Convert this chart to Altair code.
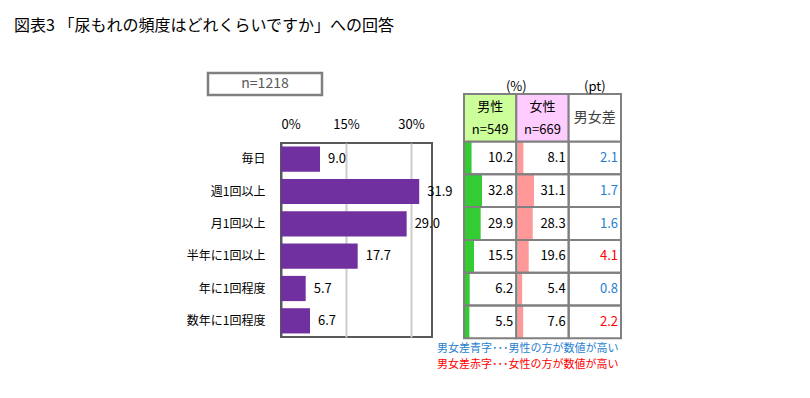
import altair as alt
import pandas as pd

# ---------------- data ----------------
title_text = "図表3 「尿もれの頻度はどれくらいですか」への回答"
n_total = "n=1218"
categories = ["毎日", "週1回以上", "月1回以上", "半年に1回以上", "年に1回程度", "数年に1回程度"]
total_pct = [9.0, 31.9, 29.0, 17.7, 5.7, 6.7]
male_pct = [10.2, 32.8, 29.9, 15.5, 6.2, 5.5]
female_pct = [8.1, 31.1, 28.3, 19.6, 5.4, 7.6]
diff_pt = [2.1, 1.7, 1.6, 4.1, 0.8, 2.2]
table_cols = ["男性", "女性", "男女差"]
table_n = ["n=549", "n=669", ""]
axis_ticks = [0, 15, 30]
unit_labels = ["(%)", "(pt)"]
note_blue = "男女差青字･･･男性の方が数値が高い"
note_red = "男女差赤字･･･女性の方が数値が高い"

# ---------------- styles ----------------
FONT = "Noto Sans CJK JP"
PURPLE = "#7030a0"
GREEN = "#33cc33"
PINK = "#ff9999"
BLUE = "#1f7fd0"
RED = "#ff0000"
CELL_BORDER = "#808080"
FRAME = "#595959"

df = pd.DataFrame({"cat": categories, "total": total_pct,
                   "male": male_pct, "female": female_pct})

rows = []
for c, m, f, d in zip(categories, male_pct, female_pct, diff_pt):
    rows.append({"cat": c, "col": "男性", "val": m, "tone": "k"})
    rows.append({"cat": c, "col": "女性", "val": f, "tone": "k"})
    rows.append({"cat": c, "col": "男女差", "val": d, "tone": "b" if m > f else "r"})
cells = pd.DataFrame(rows)

hdr = pd.DataFrame({"col": table_cols, "row": ["h"] * 3, "n": table_n})

# ---------------- scales ----------------
y_main = alt.Y("cat:N", sort=categories,
               scale=alt.Scale(domain=categories, paddingInner=0.22, paddingOuter=0.11),
               axis=alt.Axis(title=None, ticks=False, domain=False, labelPadding=16,
                             labelFontSize=12, labelColor="#000", labelFont=FONT))
y_main_noaxis = alt.Y("cat:N", sort=categories,
                      scale=alt.Scale(domain=categories, paddingInner=0.22, paddingOuter=0.11),
                      axis=None)
x_main_scale = alt.Scale(domain=[0, 34.85], nice=False, zero=True)

y_tab = alt.Y("cat:N", sort=categories,
              scale=alt.Scale(domain=categories, range=[-1.5, 195.3], paddingInner=0, paddingOuter=0),
              axis=None)
# column bands (cells) and column right edges (right-aligned numbers)
col_scale = alt.Scale(domain=table_cols, range=[183, 340], paddingInner=0, paddingOuter=0)
col_right = alt.Scale(type="point", domain=table_cols, range=[235.3, 340], padding=0)
y_hdr = alt.Y("row:N", scale=alt.Scale(domain=["h"], range=[-49, -1.5], paddingInner=0, paddingOuter=0),
              axis=None)

# ---------------- main bar chart ----------------
bars = alt.Chart(df).mark_bar(color=PURPLE).encode(
    x=alt.X("total:Q", scale=x_main_scale,
            axis=alt.Axis(orient="top", values=axis_ticks, labelExpr="datum.value + '%'",
                          ticks=False, domain=False, grid=True,
                          gridColor={"condition": {"test": "datum.value === 0", "value": FRAME},
                                     "value": "#cccccc"},
                          gridWidth=2, labelFontSize=13, labelColor="#000", labelFont=FONT,
                          labelPadding=12, title=None)),
    y=y_main,
)
bar_labels = alt.Chart(df).mark_text(align="left", dx=8, fontSize=13, font=FONT, color="#000").encode(
    x=alt.X("total:Q", scale=x_main_scale, axis=None),
    y=y_main_noaxis,
    text=alt.Text("total:Q", format=".1f"),
)

# ---------------- table ----------------
male_bars = alt.Chart(df).mark_bar(color=GREEN).encode(
    x=alt.X("male:Q", scale=alt.Scale(domain=[-4, 100], range=[184, 232.05], zero=False, nice=False), axis=None),
    x2=alt.datum(-4),
    y=y_tab,
)
female_bars = alt.Chart(df).mark_bar(color=PINK).encode(
    x=alt.X("female:Q", scale=alt.Scale(domain=[-4, 100], range=[236.8, 284.85], zero=False, nice=False), axis=None),
    x2=alt.datum(-4),
    y=y_tab,
)
cell_borders = alt.Chart(cells).mark_rect(fill="#ffffff", fillOpacity=0, stroke=CELL_BORDER, strokeWidth=2).encode(
    x=alt.X("col:N", scale=col_scale, axis=None),
    y=y_tab,
)
cell_text = alt.Chart(cells).mark_text(align="right", dx=-3, fontSize=13, font=FONT).encode(
    x=alt.X("col:N", scale=col_right, axis=None),
    y=y_tab,
    text=alt.Text("val:Q", format=".1f"),
    color=alt.Color("tone:N", scale=alt.Scale(domain=["k", "b", "r"], range=["#000000", BLUE, RED]), legend=None),
)

hdr_cells = alt.Chart(hdr).mark_rect(stroke=CELL_BORDER, strokeWidth=2).encode(
    x=alt.X("col:N", scale=col_scale, axis=None),
    y=y_hdr,
    fill=alt.Fill("col:N", scale=alt.Scale(domain=table_cols, range=["#ccff99", "#ffccff", "#ffffff"]), legend=None),
)
hdr_names = alt.Chart(hdr).transform_filter("datum.n != ''").mark_text(
    dy=-11, fontSize=13, font=FONT, color="#000").encode(
    x=alt.X("col:N", scale=col_scale, axis=None),
    y=y_hdr,
    text="col:N",
)
hdr_ns = alt.Chart(hdr).transform_filter("datum.n != ''").mark_text(
    dy=12, fontSize=13, font=FONT, color="#000").encode(
    x=alt.X("col:N", scale=col_scale, axis=None),
    y=y_hdr,
    text="n:N",
)
hdr_diff = alt.Chart(hdr).transform_filter("datum.n == ''").mark_text(
    fontSize=14, font=FONT, color="#404040").encode(
    x=alt.X("col:N", scale=col_scale, axis=None),
    y=y_hdr,
    text="col:N",
)

unit_pct = alt.Chart(pd.DataFrame({"col": ["男性"], "t": [unit_labels[0]]})).mark_text(
    fontSize=13, font=FONT, color="#000").encode(
    x=alt.X("col:N", scale=col_right, axis=None),
    y=alt.value(-56), text="t:N")
unit_pt = alt.Chart(pd.DataFrame({"col": ["男女差"], "t": [unit_labels[1]]})).mark_text(
    fontSize=13, font=FONT, color="#000").encode(
    x=alt.X("col:N", scale=col_scale, axis=None),
    y=alt.value(-56), text="t:N")

# ---------------- annotations ----------------
one = pd.DataFrame({"t": [title_text], "n": [n_total], "b": [note_blue], "r": [note_red]})
title = alt.Chart(one).mark_text(align="left", baseline="middle", fontSize=16, font=FONT, color="#000").encode(
    x=alt.value(-267), y=alt.value(-117), text="t:N")
nbox = alt.Chart(one).mark_rect(fill="#ffffff", stroke="#808080", strokeWidth=2.5).encode(
    x=alt.value(-73), x2=alt.value(41), y=alt.value(-70), y2=alt.value(-48))
ntext = alt.Chart(one).mark_text(baseline="middle", fontSize=14, font=FONT, color="#595959").encode(
    x=alt.value(-16), y=alt.value(-59), text="n:N")
note1 = alt.Chart(one).mark_text(align="left", baseline="middle", fontSize=11, font=FONT, color=BLUE).encode(
    x=alt.value(156), y=alt.value(206), text="b:N")
note2 = alt.Chart(one).mark_text(align="left", baseline="middle", fontSize=11, font=FONT, color=RED).encode(
    x=alt.value(156), y=alt.value(222), text="r:N")

chart = alt.layer(
    bars, bar_labels,
    male_bars, female_bars, cell_borders, cell_text,
    hdr_cells, hdr_names, hdr_ns, hdr_diff, unit_pct, unit_pt,
    title, nbox, ntext, note1, note2,
).resolve_scale(
    x="independent", y="independent", color="independent", fill="independent"
).properties(
    width=151, height=194,
    autosize=alt.AutoSizeParams(type="none"),
    padding={"left": 273, "top": 135, "right": 360, "bottom": 45},
    background="#ffffff",
).configure_view(
    stroke=FRAME, strokeWidth=2
)

chart.save("out.html", embed_options={"renderer": "svg", "actions": False})
